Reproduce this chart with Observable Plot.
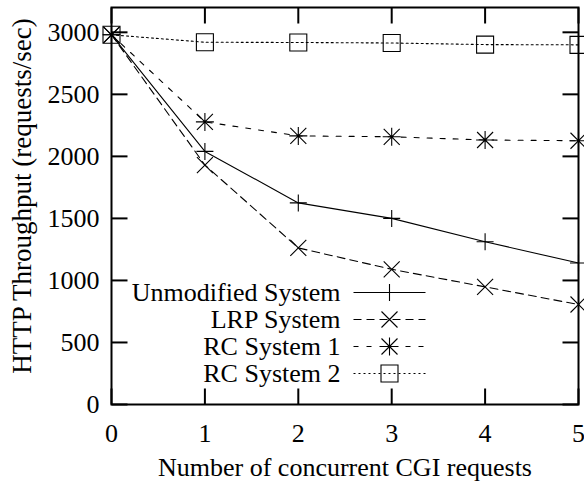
<!DOCTYPE html>
<html>
<head>
<meta charset="utf-8">
<script src="https://cdn.jsdelivr.net/npm/d3@7"></script>
<script src="https://cdn.jsdelivr.net/npm/@observablehq/plot@0.6"></script>
<style>
  html, body { margin: 0; padding: 0; background: #fff; }
  svg { display: block; }
</style>
</head>
<body>
<div id="chart"></div>
<script>
// ---- data ----
const xValues = [0, 1, 2, 3, 4, 5];
const unmodified = [2980, 2040, 1625, 1500, 1312, 1140];
const lrp = [2980, 1930, 1262, 1090, 948, 806];
const rc1 = [2980, 2278, 2165, 2158, 2132, 2126];
const rc2 = [2980, 2920, 2918, 2914, 2901, 2899];
const seriesNames = ["Unmodified System", "LRP System", "RC System 1", "RC System 2"];
const xTicks = [0, 1, 2, 3, 4, 5];
const yTicks = [0, 500, 1000, 1500, 2000, 2500, 3000];
const xLabel = "Number of concurrent CGI requests";
const yLabel = "HTTP Throughput (requests/sec)";

// ---- symbols ----
const sym = (f) => ({draw(ctx) { f(ctx); }});
const plusSym = sym(c => { c.moveTo(-8.5, 0); c.lineTo(8.5, 0); c.moveTo(0, -8.5); c.lineTo(0, 8.5); });
const timesSym = sym(c => { c.moveTo(-8, -8); c.lineTo(8, 8); c.moveTo(-8, 8); c.lineTo(8, -8); });
const starSym = sym(c => {
  c.moveTo(-9, 0); c.lineTo(9, 0); c.moveTo(0, -9); c.lineTo(0, 9);
  c.moveTo(-8, -8); c.lineTo(8, 8); c.moveTo(-8, 8); c.lineTo(8, -8);
});
const squareSym = sym(c => { c.moveTo(-8.5, -8.5); c.lineTo(8.5, -8.5); c.lineTo(8.5, 8.5); c.lineTo(-8.5, 8.5); c.closePath(); });
const TL = 16;
const tickUp = sym(c => { c.moveTo(0, 0); c.lineTo(0, -TL); });
const tickDown = sym(c => { c.moveTo(0, 0); c.lineTo(0, TL); });
const tickRight = sym(c => { c.moveTo(0, 0); c.lineTo(TL, 0); });
const tickLeft = sym(c => { c.moveTo(0, 0); c.lineTo(-TL, 0); });
const legendLine = sym(c => { c.moveTo(-36, 0); c.lineTo(36, 0); });

const series = [
  {name: seriesNames[0], values: unmodified, dash: null, symbol: plusSym},
  {name: seriesNames[1], values: lrp, dash: "8,5", symbol: timesSym},
  {name: seriesNames[2], values: rc1, dash: "5,8", symbol: starSym},
  {name: seriesNames[3], values: rc2, dash: "2,3", symbol: squareSym}
];

const M = {left: 111, right: 6, top: 7, bottom: 77};
const marks = [];

// inward ticks on all four sides
marks.push(Plot.dot(xTicks, {x: d => d, y: 0, symbol: tickUp, stroke: "black", fill: "none", strokeWidth: 2}));
marks.push(Plot.dot(xTicks, {x: d => d, y: 3200, symbol: tickDown, stroke: "black", fill: "none", strokeWidth: 2}));
marks.push(Plot.dot(yTicks, {x: 0, y: d => d, symbol: tickRight, stroke: "black", fill: "none", strokeWidth: 2}));
marks.push(Plot.dot(yTicks, {x: 5, y: d => d, symbol: tickLeft, stroke: "black", fill: "none", strokeWidth: 2}));

// data lines and markers
series.forEach(s => {
  const rows = xValues.map((x, i) => ({x, y: s.values[i]}));
  marks.push(Plot.line(rows, {x: "x", y: "y", stroke: "black", strokeWidth: 1.1, strokeDasharray: s.dash}));
  marks.push(Plot.dot(rows, {x: "x", y: "y", symbol: s.symbol, stroke: "black", fill: "none", strokeWidth: 1.1}));
});

// legend (inside plot area)
const legendTextDx = 340 - M.left, legendSampleDx = 389 - M.left;
series.forEach((s, i) => {
  const dy = 292 + i * 27 - M.top;
  marks.push(Plot.text([s.name], {frameAnchor: "top-left", dx: legendTextDx, dy, textAnchor: "end", lineAnchor: "middle", fontSize: 26, fill: "black"}));
  marks.push(Plot.dot([0], {frameAnchor: "top-left", dx: legendSampleDx, dy, symbol: legendLine, stroke: "black", fill: "none", strokeWidth: 1.1, strokeDasharray: s.dash}));
  marks.push(Plot.dot([0], {frameAnchor: "top-left", dx: legendSampleDx, dy, symbol: s.symbol, stroke: "black", fill: "none", strokeWidth: 1.1}));
});

// axes
marks.push(Plot.axisX({ticks: xTicks, tickSize: 0, tickPadding: 19, fontSize: 26, label: null, tickFormat: d3.format("d")}));
marks.push(Plot.axisY({ticks: yTicks, tickSize: 0, tickPadding: 12, fontSize: 26, label: null, tickFormat: d3.format("d")}));
marks.push(Plot.text([xLabel], {frameAnchor: "bottom", dy: 63, textAnchor: "middle", lineAnchor: "middle", fontSize: 26, fill: "black"}));
marks.push(Plot.text([yLabel], {frameAnchor: "left", dx: -89, dy: -10, rotate: -90, textAnchor: "middle", lineAnchor: "middle", fontSize: 27, fill: "black"}));
marks.push(Plot.frame({stroke: "black", strokeWidth: 2}));

const chart = Plot.plot({
  width: 584,
  height: 481,
  marginLeft: M.left,
  marginRight: M.right,
  marginTop: M.top,
  marginBottom: M.bottom,
  x: {domain: [0, 5]},
  y: {domain: [0, 3200]},
  style: {fontFamily: "'Liberation Serif', 'Times New Roman', serif", color: "black", background: "white"},
  marks
});
document.getElementById("chart").appendChild(chart);
</script>
</body>
</html>
